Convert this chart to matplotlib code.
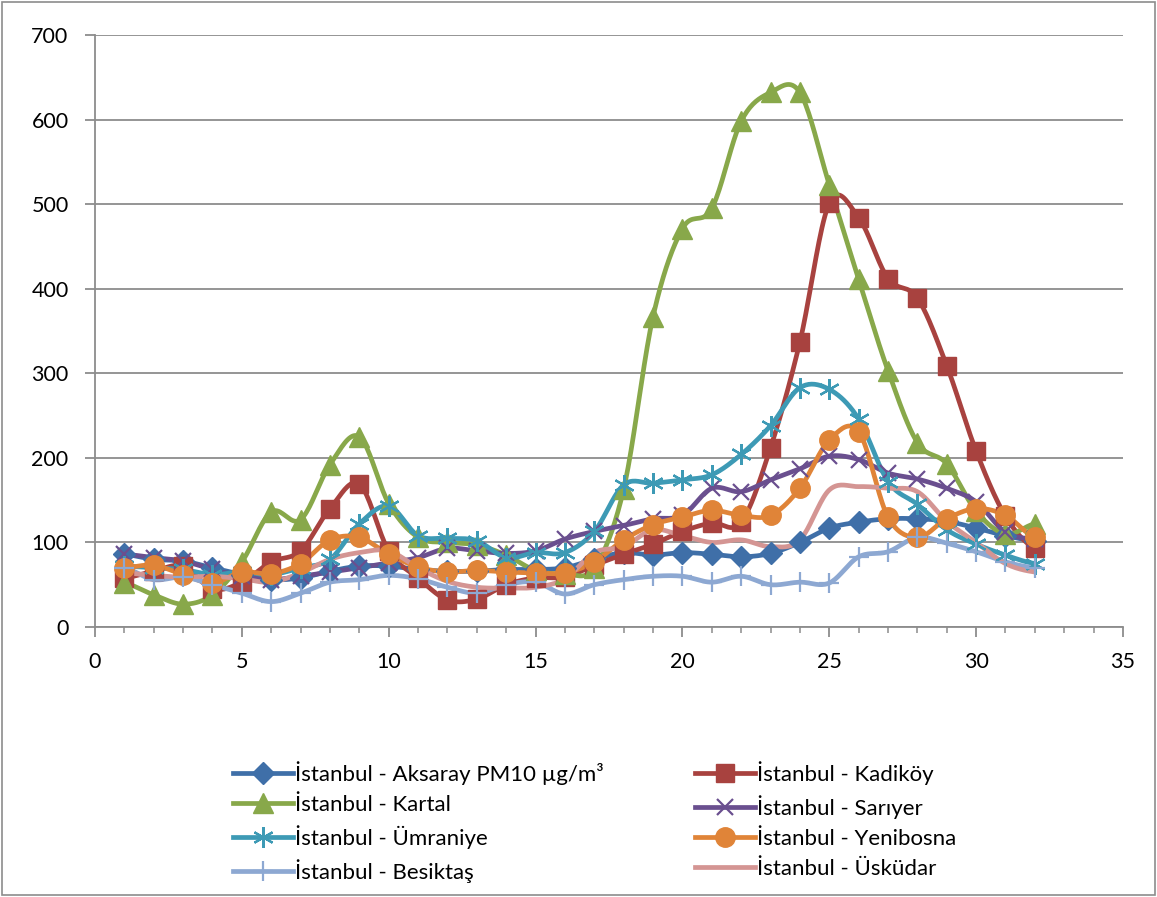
import numpy as np
import matplotlib
matplotlib.use("Agg")
import matplotlib.pyplot as plt
from matplotlib.lines import Line2D
from matplotlib.patches import Rectangle

plt.rcParams['font.family'] = ['Lato', 'DejaVu Sans']

# daily PM10 readings, days 1..32
days = np.arange(1, 33)

aksaray = [86, 80, 78, 70, 62, 56, 58, 66, 72, 72, 68, 66, 66, 68, 68, 70,
           80, 88, 85, 88, 86, 83, 87, 100, 117, 124, 128, 128, 125, 117, 108, 102]
kadikoy = [58, 66, 72, 45, 53, 77, 90, 140, 169, 90, 58, 32, 33, 50, 58, 59,
           73, 86, 98, 113, 123, 124, 212, 337, 501, 484, 412, 389, 309, 208, 131, 93]
kartal = [52, 38, 27, 38, 77, 136, 127, 192, 225, 146, 106, 100, 97, 85, 67, 63,
          70, 163, 367, 471, 495, 598, 632, 632, 523, 411, 303, 218, 193, 137, 110, 122]
sariyer = [86, 82, 78, 68, 60, 56, 60, 65, 70, 76, 82, 93, 90, 87, 90, 104,
           113, 120, 128, 132, 164, 160, 174, 187, 202, 198, 182, 175, 164, 148, 112, 104]
umraniye = [72, 70, 68, 62, 65, 62, 70, 80, 122, 143, 108, 105, 102, 82, 88, 88,
            113, 168, 170, 174, 180, 204, 238, 283, 281, 246, 172, 145, 115, 98, 85, 75]
yenibosna = [70, 73, 62, 52, 65, 63, 75, 103, 106, 86, 71, 65, 67, 65, 64, 64,
             77, 103, 121, 130, 138, 132, 132, 164, 221, 231, 130, 106, 128, 140, 132, 106]
besiktas = [70, 56, 59, 50, 40, 30, 40, 53, 56, 61, 57, 47, 40, 50, 53, 39,
            50, 56, 60, 60, 53, 60, 50, 53, 52, 83, 89, 106, 99, 89, 77, 70]
uskudar = [64, 61, 59, 60, 57, 53, 64, 80, 88, 90, 70, 54, 47, 46, 47, 57,
           88, 95, 115, 108, 100, 103, 95, 103, 162, 166, 164, 160, 125, 100, 75, 65]

labels = ["İstanbul - Aksaray PM10 µg/m³", "İstanbul - Kadiköy", "İstanbul - Kartal",
          "İstanbul - Sarıyer", "İstanbul - Ümraniye", "İstanbul - Yenibosna",
          "İstanbul - Besiktaş", "İstanbul - Üsküdar"]
series = [aksaray, kadikoy, kartal, sariyer, umraniye, yenibosna, besiktas, uskudar]
colors = ["#3F6FA8", "#A8423F", "#88A84A", "#6A4F8F", "#3D9AB5", "#E08438", "#8DA8D2", "#D49593"]
markers = ["D", "s", "^", "x", "*", "o", "+", None]
msizes = [11, 13, 14, 11, 15, 14, 15, 0]


def smooth(x, y, n=20):
    # Catmull-Rom curve through the points (like Excel's smoothed line)
    x = np.asarray(x, float)
    y = np.asarray(y, float)
    px = np.concatenate([[2 * x[0] - x[1]], x, [2 * x[-1] - x[-2]]])
    py = np.concatenate([[y[0]], y, [y[-1]]])
    xs, ys = [], []
    t = np.linspace(0, 1, n, endpoint=False)
    for i in range(1, len(px) - 2):
        for p, out in ((px, xs), (py, ys)):
            p0, p1, p2, p3 = p[i - 1], p[i], p[i + 1], p[i + 2]
            out.extend(0.5 * (2 * p1 + (-p0 + p2) * t
                              + (2 * p0 - 5 * p1 + 4 * p2 - p3) * t ** 2
                              + (-p0 + 3 * p1 - 3 * p2 + p3) * t ** 3))
    xs.append(x[-1])
    ys.append(y[-1])
    return np.array(xs), np.array(ys)


fig = plt.figure(figsize=(11.57, 8.97), dpi=100)
ax = fig.add_axes([0.0821, 0.301, 0.8885, 0.660])

handles = []
for y, c, m, ms, lab in zip(series, colors, markers, msizes, labels):
    sx, sy = smooth(days, y)
    ax.plot(sx, sy, color=c, lw=3.4, solid_capstyle='round', zorder=3)
    hm = (6, 2, 0) if m == "*" else m
    thin = m in ("x", "+", "*")
    if m is not None:
        ax.plot(days, y, ls='none', marker=hm, ms=ms, color=c, mec=c,
                mew=1.6 if thin else 1, zorder=4)
    handles.append(Line2D([], [], color=c, lw=3.4, marker=hm, ms=ms,
                          mec=c, mfc=c, mew=1.6 if thin else 1))

ax.set_xlim(0, 35)
ax.set_ylim(0, 700)
ax.set_xticks(np.arange(0, 36, 5))
ax.set_xticks(np.arange(0, 36, 1), minor=True)
ax.set_yticks(np.arange(0, 701, 100))
ax.yaxis.grid(True, color="#8C8C8C", lw=1.3)
ax.set_axisbelow(True)
for s in ("top", "right"):
    ax.spines[s].set_visible(False)
for s in ("left", "bottom"):
    ax.spines[s].set_color("#8C8C8C")
    ax.spines[s].set_linewidth(1.3)
ax.tick_params(axis='both', which='major', direction='out', length=7, width=1.3,
               color="#8C8C8C", labelsize=15.5, labelcolor='black')
ax.tick_params(axis='y', which='major', pad=12)
ax.tick_params(axis='x', which='major', pad=11)
ax.tick_params(axis='x', which='minor', direction='out', length=4, width=1.1, color="#8C8C8C")

# legend, filled row by row like the source chart
order = [0, 2, 4, 6, 1, 3, 5, 7]
fig.legend([handles[i] for i in order], [labels[i] for i in order],
           loc='center', bbox_to_anchor=(0.514, 0.0836), ncol=2, frameon=False,
           fontsize=16, handlelength=2.7, handletextpad=0.1,
           columnspacing=4.1, labelspacing=0.45)

fig.add_artist(Rectangle((0.002, 0.002), 0.996, 0.996, transform=fig.transFigure,
                         fill=False, ec="#8C8C8C", lw=1.2))

fig.savefig("out.png", dpi=100)
